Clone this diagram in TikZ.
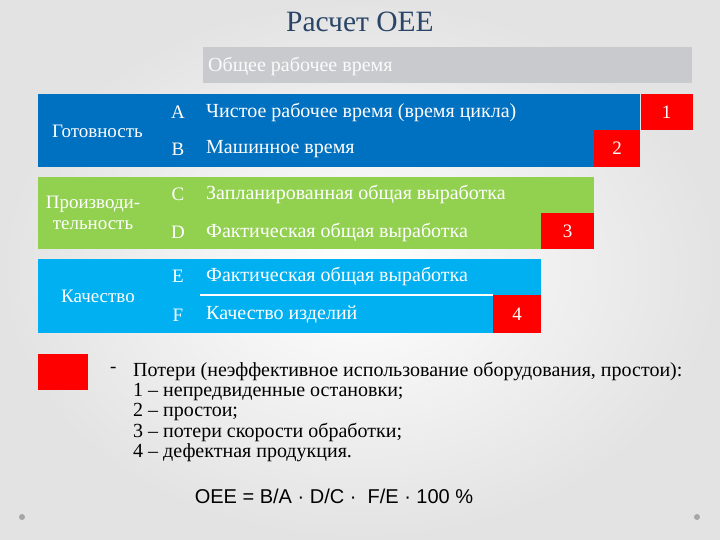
\documentclass[tikz,border=0pt]{standalone}
\usepackage{fontspec}
\setmainfont{Liberation Serif}
\newfontfamily\formulafont{Liberation Sans}
\usepackage{xcolor}
\usetikzlibrary{positioning,calc}
\definecolor{titleblue}{HTML}{2A4567}
\definecolor{totalgray}{HTML}{C8CACD}
\definecolor{availblue}{HTML}{0070C0}
\definecolor{perfgreen}{HTML}{92D050}
\definecolor{qualblue}{HTML}{00B0F0}
\definecolor{lossred}{HTML}{FF0000}
\tikzset{
  bar/.style={rectangle, inner sep=0pt, anchor=north west},
  lossbox/.style={rectangle, fill=lossred, inner sep=0pt, text=white, font=\fontsize{19}{21}\selectfont},
  rowtext/.style={anchor=west, text=white, inner sep=0pt, font=\fontsize{20}{22}\selectfont},
  letter/.style={text=white, inner sep=0pt, font=\fontsize{19}{21}\selectfont},
  sidelabel/.style={text=white, align=center, inner sep=0pt, font=\fontsize{19}{21}\selectfont},
}

\begin{document}
\begin{tikzpicture}[x=1pt, y=-1pt]
    \shade[inner color=white, outer color=black!11] (0,0) rectangle (720,540);
    \useasboundingbox (0,0) rectangle (720,540);

    \node[text=titleblue, font=\fontsize{29.5}{31}\selectfont] (title) at (360,22) {Расчет OEE};

    % time bars
    \node[bar, fill=totalgray, minimum width=489, minimum height=36] (total) at (203,47) {};
    \node[rowtext, text=white!92!totalgray] (totaltext) at (208,66) {Общее рабочее время};

    \node[bar, fill=availblue, minimum width=602, minimum height=73] (avail) at (38,94) {};
    \node[bar, fill=perfgreen, minimum width=556, minimum height=72] (perf) at (38,177) {};
    \node[bar, fill=qualblue, minimum width=503, minimum height=74] (qual) at (38,259) {};

    % losses
    \node[lossbox, minimum width=52, minimum height=36, anchor=north west] (loss1) at (avail.north east) {1};
    \node[lossbox, minimum width=46, minimum height=37, anchor=south east] (loss2) at (avail.south east) {2};
    \node[lossbox, minimum width=53, minimum height=36, anchor=south east] (loss3) at (perf.south east) {3};
    \node[lossbox, minimum width=48, minimum height=38, anchor=south east] (loss4) at (qual.south east) {4};

    % side labels
    \node[sidelabel, anchor=west] (availlabel) at (52,131) {Готовность};
    \node[sidelabel] (perflabel) at (93,213) {Производи-\\тельность};
    \node[sidelabel] (quallabel) at (98,296) {Качество};

    % rows
    \node[letter] (la) at (178,112) {A};
    \node[letter] (lb) at (178,149) {B};
    \node[letter] (lc) at (178,194) {C};
    \node[letter] (ld) at (178,232) {D};
    \node[letter] (le) at (178,276) {E};
    \node[letter] (lf) at (178,315) {F};
    \node[rowtext] (ta) at (206,112) {Чистое рабочее время (время цикла)};
    \node[rowtext] (tb) at (206,149) {Машинное время};
    \node[rowtext] (tc) at (206,194) {Запланированная общая выработка};
    \node[rowtext] (td) at (206,232) {Фактическая общая выработка};
    \node[rowtext] (te) at (206,276) {Фактическая общая выработка};
    \node[rowtext] (tf) at (206,315) {Качество изделий};
    \coordinate (split) at (200,295);
    \draw[white, line width=1.2pt] (split) -- (loss4.north west);

    % legend
    \node[lossbox, minimum width=50, minimum height=36, anchor=north west] (legendbox) at (38,354) {};
    \node[anchor=west, inner sep=0pt, font=\fontsize{19}{21}\selectfont] (dash) at (110,370) {-};
    \node[anchor=north west, inner sep=0pt, align=left, font=\fontsize{20}{20.2}\selectfont] (legend) at (133,362)
        {Потери (неэффективное использование оборудования, простои):\\
         1 – непредвиденные остановки;\\
         2 – простои;\\
         3 – потери скорости обработки;\\
         4 – дефектная продукция.};

    \node[font=\formulafont\fontsize{20}{22}\selectfont] (oee) at (334,496) {OEE = B/A · D/C ·\ \ F/E · 100 \%};

    \fill[black!35] (22,517) circle (3) coordinate (dotl);
    \fill[black!35] (697,517) circle (3) coordinate (dotr);
\end{tikzpicture}
\end{document}
